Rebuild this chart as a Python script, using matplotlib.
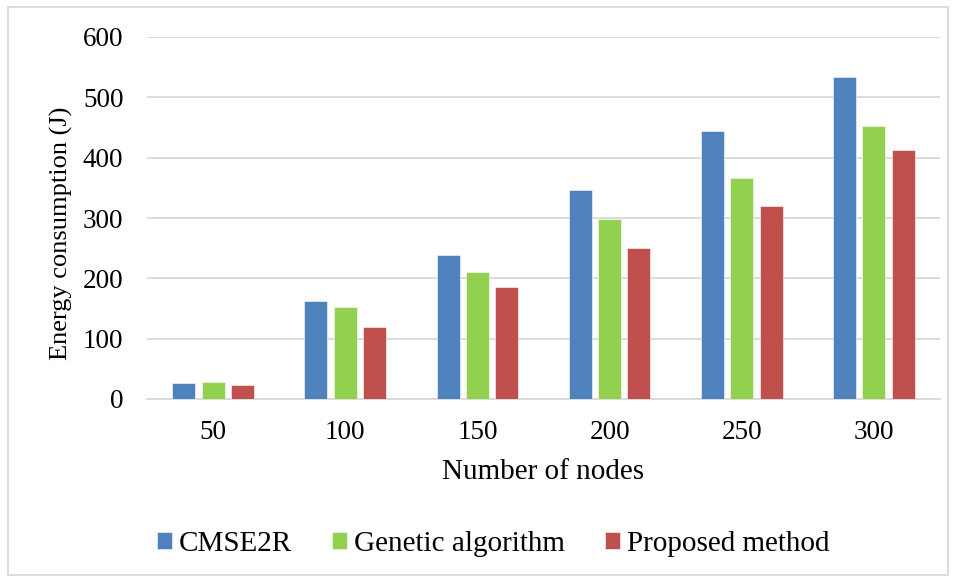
import matplotlib
matplotlib.use("Agg")
import matplotlib.pyplot as plt
import numpy as np
from matplotlib.patches import Rectangle

categories = ["50", "100", "150", "200", "250", "300"]
series_names = ["CMSE2R", "Genetic algorithm", "Proposed method"]
cmse2r = [27, 163, 238, 347, 445, 534]
genetic = [28, 153, 211, 298, 367, 453]
proposed = [23, 120, 186, 251, 320, 413]
colors = ["#4F81BD", "#92D050", "#C0504D"]
yticks = [0, 100, 200, 300, 400, 500, 600]

plt.rcParams['font.family'] = ['Liberation Serif', 'DejaVu Serif']

W, H = 956, 577
fig = plt.figure(figsize=(W/100, H/100), dpi=100)
ax_l, ax_r, ax_t, ax_b = 147, 940, 37, 399
ax = fig.add_axes([ax_l/W, 1-ax_b/H, (ax_r-ax_l)/W, (ax_b-ax_t)/H])
aw, ah = ax_r-ax_l, ax_b-ax_t

x = np.arange(len(categories))
width = 0.174
spacing = 0.222
for i, (vals, name, c) in enumerate(zip([cmse2r, genetic, proposed], series_names, colors)):
    ax.bar(x + (i-1)*spacing, vals, width, color=c, label=name, zorder=3,
           edgecolor='white', linewidth=0.4)

ax.set_xlim(-0.5, len(categories)-0.5)
ax.set_ylim(0, 600)
ax.set_yticks(yticks)
ax.set_xticks(x)
ax.set_xticklabels(categories)
ax.yaxis.grid(True, color='#D9D9D9', linewidth=1.3, zorder=0)
ax.set_axisbelow(True)
for s in ['top', 'right', 'left']:
    ax.spines[s].set_visible(False)
ax.spines['bottom'].set_color('#D9D9D9')
ax.spines['bottom'].set_linewidth(1.3)
ax.tick_params(axis='both', length=0, labelsize=19.5, colors='black')
ax.tick_params(axis='y', pad=17)
ax.tick_params(axis='x', pad=15)

ax.set_xlabel("Number of nodes", fontsize=21)
ax.set_ylabel("Energy consumption (J)", fontsize=19)
ax.xaxis.set_label_coords(0.5, -(472-ax_b)/ah)
ax.xaxis.label.set_va('center')
ax.yaxis.set_label_coords(-(ax_l-61)/aw, (ax_b-233)/ah)
ax.yaxis.label.set_va('center')

leg = fig.legend(loc='center', bbox_to_anchor=(493.5/W, 1-544/H), ncol=3, frameon=False,
                 fontsize=21, handlelength=0.51, handleheight=0.51, handletextpad=0.25,
                 columnspacing=1.37)

fig.patches.append(Rectangle((8/W, 1-575/H), (948-8)/W, (575-7)/H, transform=fig.transFigure,
                             fill=False, edgecolor='#D9D9D9', linewidth=1.3))

fig.savefig("out.png", dpi=100)
